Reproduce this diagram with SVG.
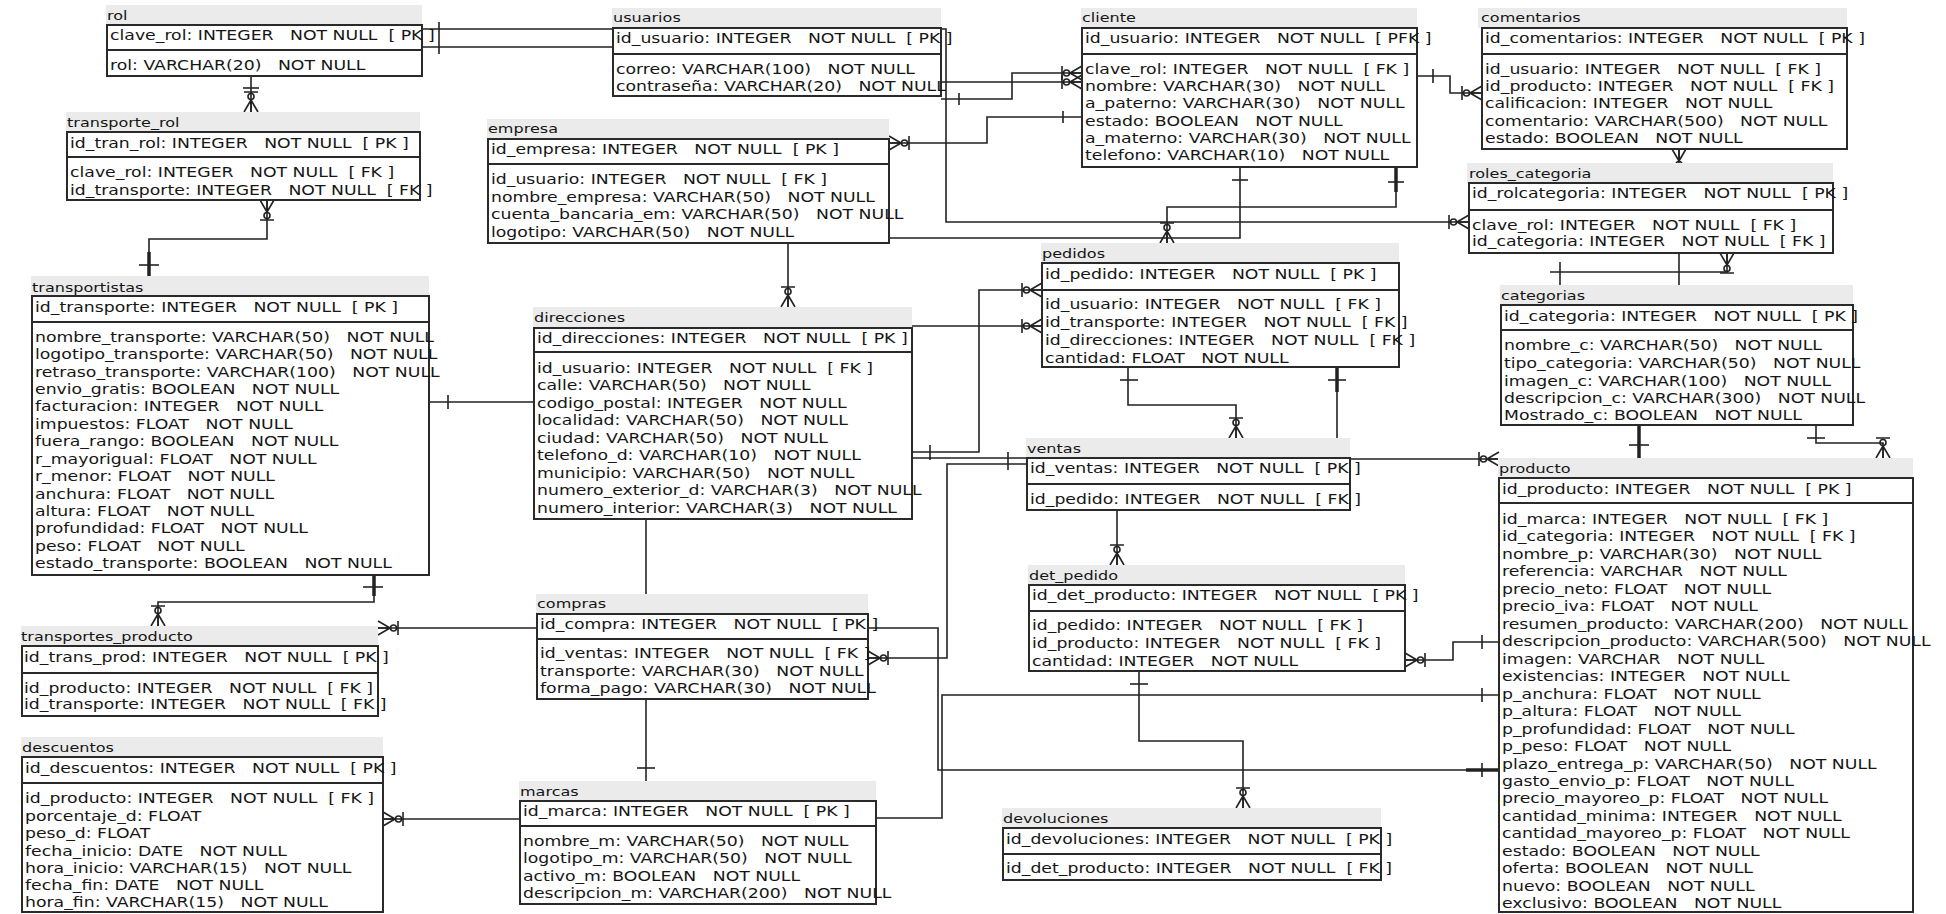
<svg xmlns="http://www.w3.org/2000/svg" xmlns:xlink="http://www.w3.org/1999/xlink" width="1946" height="914" viewBox="0 0 1946 914">
<style>
text { font-family: "DejaVu Sans", Verdana, sans-serif; white-space: pre; fill: #161616; }
.r { font-size: 14px; }
.t { font-size: 13px; }
.band { fill: #ebebeb; }
.box { fill: #fff; stroke: #2a2a2a; stroke-width: 2; }
.dv { stroke: #2a2a2a; stroke-width: 2; }
.cn { fill: none; stroke: #222; stroke-width: 1.6; }
.mk { fill: none; stroke: #222; stroke-width: 1.6; }
.th { fill: none; stroke: #222; stroke-width: 3.5; }
</style>
<defs>
<g id="many" class="mk"><path d="M-12,0L0,-7M-12,0L0,0M-12,0L0,7M-20,-7L-20,7"/><circle cx="-15.5" cy="0" r="3"/></g>
</defs>
<rect x="0" y="0" width="1946" height="914" fill="#fff"/>

<g id="connectors">
<polyline class="cn" points="422,29 946,29 946,222 1469,222"/>
<line class="mk" x1="439" y1="22" x2="439" y2="54"/>
<use xlink:href="#many" href="#many" transform="translate(1469,222)"/>
<polyline class="cn" points="422,47 700,47 700,82 1082,82"/>
<use xlink:href="#many" href="#many" transform="translate(1082,82)"/>
<polyline class="cn" points="941,99 1012,99 1012,73 1082,73"/>
<line class="mk" x1="959" y1="93" x2="959" y2="105"/>
<use xlink:href="#many" href="#many" transform="translate(1082,73)"/>
<polyline class="cn" points="889,143 987,143 987,117 1082,117"/>
<use xlink:href="#many" href="#many" transform="translate(889,143) rotate(180)"/>
<line class="mk" x1="1063" y1="111" x2="1063" y2="123"/>
<polyline class="cn" points="889,238 1240,238 1240,167"/>
<line class="mk" x1="1232" y1="180" x2="1248" y2="180"/>
<polyline class="cn" points="1396,167 1396,207 1167,207 1167,243"/>
<line class="th" x1="1396" y1="168" x2="1396" y2="192"/>
<line class="mk" x1="1388" y1="182" x2="1404" y2="182"/>
<use xlink:href="#many" href="#many" transform="translate(1167,243) rotate(90)"/>
<polyline class="cn" points="1417,76 1450,76 1450,93 1482,93"/>
<line class="mk" x1="1433" y1="69" x2="1433" y2="83"/>
<use xlink:href="#many" href="#many" transform="translate(1482,93)"/>
<polyline class="cn" points="1679,149 1679,300"/>
<use xlink:href="#many" href="#many" transform="translate(1679,149) rotate(-90)"/>
<polyline class="cn" points="1550,272 1727,272 1727,253"/>
<line class="mk" x1="1560" y1="262" x2="1560" y2="285"/>
<use xlink:href="#many" href="#many" transform="translate(1727,253) rotate(-90)"/>
<line class="th" x1="1639" y1="425" x2="1639" y2="458"/>
<line class="mk" x1="1629" y1="445" x2="1649" y2="445"/>
<polyline class="cn" points="1816,425 1816,443 1883,443 1883,458"/>
<line class="mk" x1="1807" y1="438" x2="1825" y2="438"/>
<use xlink:href="#many" href="#many" transform="translate(1883,458) rotate(90)"/>
<polyline class="cn" points="429,402 534,402"/>
<line class="mk" x1="448" y1="395" x2="448" y2="409"/>
<polyline class="cn" points="912,326 1042,326"/>
<use xlink:href="#many" href="#many" transform="translate(1042,326)"/>
<polyline class="cn" points="912,452 979,452 979,290 1042,290"/>
<line class="mk" x1="930" y1="445" x2="930" y2="460"/>
<use xlink:href="#many" href="#many" transform="translate(1042,290)"/>
<polyline class="cn" points="912,458 1100,458"/>
<line class="mk" x1="1008" y1="452" x2="1008" y2="470"/>
<polyline class="cn" points="1027,464 947,464 947,658 868,658"/>
<use xlink:href="#many" href="#many" transform="translate(868,658) rotate(180)"/>
<polyline class="cn" points="1128,367 1128,405 1236,405 1236,438"/>
<line class="mk" x1="1120" y1="380" x2="1138" y2="380"/>
<use xlink:href="#many" href="#many" transform="translate(1236,438) rotate(90)"/>
<polyline class="cn" points="1337,367 1337,459 1499,459"/>
<line class="th" x1="1337" y1="368" x2="1337" y2="392"/>
<line class="mk" x1="1328" y1="380" x2="1346" y2="380"/>
<use xlink:href="#many" href="#many" transform="translate(1499,459)"/>
<polyline class="cn" points="1117,510 1117,565"/>
<use xlink:href="#many" href="#many" transform="translate(1117,565) rotate(90)"/>
<polyline class="cn" points="1139,671 1139,741 1243,741 1243,808"/>
<line class="mk" x1="1130" y1="684" x2="1148" y2="684"/>
<use xlink:href="#many" href="#many" transform="translate(1243,808) rotate(90)"/>
<polyline class="cn" points="1405,660 1453,660 1453,642 1499,642"/>
<use xlink:href="#many" href="#many" transform="translate(1405,660) rotate(180)"/>
<line class="mk" x1="1482" y1="635" x2="1482" y2="649"/>
<polyline class="cn" points="876,818 942,818 942,695 1499,695"/>
<line class="mk" x1="1482" y1="688" x2="1482" y2="702"/>
<polyline class="cn" points="868,628 938,628 938,770 1499,770"/>
<line class="th" x1="1466" y1="770" x2="1499" y2="770"/>
<line class="mk" x1="1482" y1="763" x2="1482" y2="777"/>
<polyline class="cn" points="646,519 646,594"/>
<polyline class="cn" points="646,699 646,781"/>
<line class="mk" x1="637" y1="768" x2="655" y2="768"/>
<polyline class="cn" points="537,628 378,628"/>
<use xlink:href="#many" href="#many" transform="translate(378,628) rotate(180)"/>
<polyline class="cn" points="520,819 383,819"/>
<use xlink:href="#many" href="#many" transform="translate(383,819) rotate(180)"/>
<polyline class="cn" points="267,200 267,239 149,239 149,276"/>
<use xlink:href="#many" href="#many" transform="translate(267,200) rotate(-90)"/>
<line class="th" x1="149" y1="252" x2="149" y2="276"/>
<line class="mk" x1="139" y1="265" x2="159" y2="265"/>
<polyline class="cn" points="251,76 251,112"/>
<line class="mk" x1="243" y1="88" x2="259" y2="88"/>
<use xlink:href="#many" href="#many" transform="translate(251,112) rotate(90)"/>
<polyline class="cn" points="374,575 374,602 158,602 158,626"/>
<line class="th" x1="374" y1="576" x2="374" y2="596"/>
<line class="mk" x1="363" y1="587" x2="383" y2="587"/>
<use xlink:href="#many" href="#many" transform="translate(158,626) rotate(90)"/>
<polyline class="cn" points="788,243 788,307"/>
<use xlink:href="#many" href="#many" transform="translate(788,307) rotate(90)"/>
</g>

<g id="rol">
<rect class="band" x="106" y="5" width="316" height="20"/>
<rect class="box" x="107" y="25" width="315" height="51"/>
<line class="dv" x1="107" y1="50" x2="422" y2="50"/>
<g transform="translate(107,0) scale(1.235,1)"><text class="t" y="20">rol</text></g>
<g transform="translate(110,0) scale(1.235,1)">
<text class="r" y="40">clave_rol: INTEGER   NOT NULL  [ PK ]</text>
<text class="r" y="70">rol: VARCHAR(20)   NOT NULL</text>
</g>
</g>

<g id="transporte_rol">
<rect class="band" x="66" y="112" width="354" height="20"/>
<rect class="box" x="67" y="132" width="353" height="68"/>
<line class="dv" x1="67" y1="157" x2="420" y2="157"/>
<g transform="translate(67,0) scale(1.235,1)"><text class="t" y="127">transporte_rol</text></g>
<g transform="translate(70,0) scale(1.235,1)">
<text class="r" y="148">id_tran_rol: INTEGER   NOT NULL  [ PK ]</text>
<text class="r" y="177">clave_rol: INTEGER   NOT NULL  [ FK ]</text>
<text class="r" y="195">id_transporte: INTEGER   NOT NULL  [ FK ]</text>
</g>
</g>

<g id="transportistas">
<rect class="band" x="31" y="276" width="398" height="20"/>
<rect class="box" x="32" y="296" width="397" height="279"/>
<line class="dv" x1="32" y1="322" x2="429" y2="322"/>
<g transform="translate(32,0) scale(1.235,1)"><text class="t" y="292">transportistas</text></g>
<g transform="translate(35,0) scale(1.235,1)">
<text class="r" y="312">id_transporte: INTEGER   NOT NULL  [ PK ]</text>
<text class="r" y="341.7">nombre_transporte: VARCHAR(50)   NOT NULL</text>
<text class="r" y="359.1">logotipo_transporte: VARCHAR(50)   NOT NULL</text>
<text class="r" y="376.6">retraso_transporte: VARCHAR(100)   NOT NULL</text>
<text class="r" y="394">envio_gratis: BOOLEAN   NOT NULL</text>
<text class="r" y="411.4">facturacion: INTEGER   NOT NULL</text>
<text class="r" y="428.9">impuestos: FLOAT   NOT NULL</text>
<text class="r" y="446.3">fuera_rango: BOOLEAN   NOT NULL</text>
<text class="r" y="463.7">r_mayorigual: FLOAT   NOT NULL</text>
<text class="r" y="481.1">r_menor: FLOAT   NOT NULL</text>
<text class="r" y="498.6">anchura: FLOAT   NOT NULL</text>
<text class="r" y="516">altura: FLOAT   NOT NULL</text>
<text class="r" y="533.4">profundidad: FLOAT   NOT NULL</text>
<text class="r" y="550.9">peso: FLOAT   NOT NULL</text>
<text class="r" y="568.3">estado_transporte: BOOLEAN   NOT NULL</text>
</g>
</g>

<g id="usuarios">
<rect class="band" x="612" y="8" width="329" height="20"/>
<rect class="box" x="613" y="28" width="328" height="68"/>
<line class="dv" x1="613" y1="54" x2="941" y2="54"/>
<g transform="translate(613,0) scale(1.235,1)"><text class="t" y="22">usuarios</text></g>
<g transform="translate(616,0) scale(1.235,1)">
<text class="r" y="43">id_usuario: INTEGER   NOT NULL  [ PK ]</text>
<text class="r" y="74">correo: VARCHAR(100)   NOT NULL</text>
<text class="r" y="91">contraseña: VARCHAR(20)   NOT NULL</text>
</g>
</g>

<g id="empresa">
<rect class="band" x="487" y="119" width="402" height="20"/>
<rect class="box" x="488" y="139" width="401" height="104"/>
<line class="dv" x1="488" y1="164" x2="889" y2="164"/>
<g transform="translate(488,0) scale(1.235,1)"><text class="t" y="133">empresa</text></g>
<g transform="translate(491,0) scale(1.235,1)">
<text class="r" y="154">id_empresa: INTEGER   NOT NULL  [ PK ]</text>
<text class="r" y="184">id_usuario: INTEGER   NOT NULL  [ FK ]</text>
<text class="r" y="202">nombre_empresa: VARCHAR(50)   NOT NULL</text>
<text class="r" y="219">cuenta_bancaria_em: VARCHAR(50)   NOT NULL</text>
<text class="r" y="237">logotipo: VARCHAR(50)   NOT NULL</text>
</g>
</g>

<g id="cliente">
<rect class="band" x="1081" y="8" width="336" height="20"/>
<rect class="box" x="1082" y="28" width="335" height="139"/>
<line class="dv" x1="1082" y1="54" x2="1417" y2="54"/>
<g transform="translate(1082,0) scale(1.235,1)"><text class="t" y="22">cliente</text></g>
<g transform="translate(1085,0) scale(1.235,1)">
<text class="r" y="43">id_usuario: INTEGER   NOT NULL  [ PFK ]</text>
<text class="r" y="74">clave_rol: INTEGER   NOT NULL  [ FK ]</text>
<text class="r" y="91">nombre: VARCHAR(30)   NOT NULL</text>
<text class="r" y="108">a_paterno: VARCHAR(30)   NOT NULL</text>
<text class="r" y="126">estado: BOOLEAN   NOT NULL</text>
<text class="r" y="143">a_materno: VARCHAR(30)   NOT NULL</text>
<text class="r" y="160">telefono: VARCHAR(10)   NOT NULL</text>
</g>
</g>

<g id="comentarios">
<rect class="band" x="1478" y="8" width="369" height="20"/>
<rect class="box" x="1482" y="28" width="365" height="121"/>
<line class="dv" x1="1482" y1="54" x2="1847" y2="54"/>
<g transform="translate(1481,0) scale(1.235,1)"><text class="t" y="22">comentarios</text></g>
<g transform="translate(1485,0) scale(1.235,1)">
<text class="r" y="43">id_comentarios: INTEGER   NOT NULL  [ PK ]</text>
<text class="r" y="74">id_usuario: INTEGER   NOT NULL  [ FK ]</text>
<text class="r" y="91">id_producto: INTEGER   NOT NULL  [ FK ]</text>
<text class="r" y="108">calificacion: INTEGER   NOT NULL</text>
<text class="r" y="126">comentario: VARCHAR(500)   NOT NULL</text>
<text class="r" y="143">estado: BOOLEAN   NOT NULL</text>
</g>
</g>

<g id="roles_categoria">
<rect class="band" x="1467" y="163" width="366" height="20"/>
<rect class="box" x="1469" y="183" width="364" height="70"/>
<line class="dv" x1="1469" y1="210" x2="1833" y2="210"/>
<g transform="translate(1469,0) scale(1.235,1)"><text class="t" y="178">roles_categoria</text></g>
<g transform="translate(1472,0) scale(1.235,1)">
<text class="r" y="198">id_rolcategoria: INTEGER   NOT NULL  [ PK ]</text>
<text class="r" y="230">clave_rol: INTEGER   NOT NULL  [ FK ]</text>
<text class="r" y="246">id_categoria: INTEGER   NOT NULL  [ FK ]</text>
</g>
</g>

<g id="categorias">
<rect class="band" x="1500" y="285" width="353" height="20"/>
<rect class="box" x="1501" y="305" width="352" height="120"/>
<line class="dv" x1="1501" y1="330" x2="1853" y2="330"/>
<g transform="translate(1501,0) scale(1.235,1)"><text class="t" y="300">categorias</text></g>
<g transform="translate(1504,0) scale(1.235,1)">
<text class="r" y="321">id_categoria: INTEGER   NOT NULL  [ PK ]</text>
<text class="r" y="350">nombre_c: VARCHAR(50)   NOT NULL</text>
<text class="r" y="368">tipo_categoria: VARCHAR(50)   NOT NULL</text>
<text class="r" y="386">imagen_c: VARCHAR(100)   NOT NULL</text>
<text class="r" y="403">descripcion_c: VARCHAR(300)   NOT NULL</text>
<text class="r" y="420">Mostrado_c: BOOLEAN   NOT NULL</text>
</g>
</g>

<g id="producto">
<rect class="band" x="1498" y="458" width="415" height="20"/>
<rect class="box" x="1499" y="478" width="414" height="434"/>
<line class="dv" x1="1499" y1="503" x2="1913" y2="503"/>
<g transform="translate(1499,0) scale(1.235,1)"><text class="t" y="473">producto</text></g>
<g transform="translate(1502,0) scale(1.235,1)">
<text class="r" y="494">id_producto: INTEGER   NOT NULL  [ PK ]</text>
<text class="r" y="524">id_marca: INTEGER   NOT NULL  [ FK ]</text>
<text class="r" y="541.5">id_categoria: INTEGER   NOT NULL  [ FK ]</text>
<text class="r" y="558.9">nombre_p: VARCHAR(30)   NOT NULL</text>
<text class="r" y="576.4">referencia: VARCHAR   NOT NULL</text>
<text class="r" y="593.9">precio_neto: FLOAT   NOT NULL</text>
<text class="r" y="611.4">precio_iva: FLOAT   NOT NULL</text>
<text class="r" y="628.8">resumen_producto: VARCHAR(200)   NOT NULL</text>
<text class="r" y="646.3">descripcion_producto: VARCHAR(500)   NOT NULL</text>
<text class="r" y="663.8">imagen: VARCHAR   NOT NULL</text>
<text class="r" y="681.2">existencias: INTEGER   NOT NULL</text>
<text class="r" y="698.7">p_anchura: FLOAT   NOT NULL</text>
<text class="r" y="716.2">p_altura: FLOAT   NOT NULL</text>
<text class="r" y="733.6">p_profundidad: FLOAT   NOT NULL</text>
<text class="r" y="751.1">p_peso: FLOAT   NOT NULL</text>
<text class="r" y="768.6">plazo_entrega_p: VARCHAR(50)   NOT NULL</text>
<text class="r" y="786.1">gasto_envio_p: FLOAT   NOT NULL</text>
<text class="r" y="803.5">precio_mayoreo_p: FLOAT   NOT NULL</text>
<text class="r" y="821">cantidad_minima: INTEGER   NOT NULL</text>
<text class="r" y="838.5">cantidad_mayoreo_p: FLOAT   NOT NULL</text>
<text class="r" y="855.9">estado: BOOLEAN   NOT NULL</text>
<text class="r" y="873.4">oferta: BOOLEAN   NOT NULL</text>
<text class="r" y="890.9">nuevo: BOOLEAN   NOT NULL</text>
<text class="r" y="908.3">exclusivo: BOOLEAN   NOT NULL</text>
</g>
</g>

<g id="direcciones">
<rect class="band" x="533" y="307" width="379" height="21"/>
<rect class="box" x="534" y="328" width="378" height="191"/>
<line class="dv" x1="534" y1="352" x2="912" y2="352"/>
<g transform="translate(534,0) scale(1.235,1)"><text class="t" y="322">direcciones</text></g>
<g transform="translate(537,0) scale(1.235,1)">
<text class="r" y="343">id_direcciones: INTEGER   NOT NULL  [ PK ]</text>
<text class="r" y="373">id_usuario: INTEGER   NOT NULL  [ FK ]</text>
<text class="r" y="390.5">calle: VARCHAR(50)   NOT NULL</text>
<text class="r" y="408">codigo_postal: INTEGER   NOT NULL</text>
<text class="r" y="425.5">localidad: VARCHAR(50)   NOT NULL</text>
<text class="r" y="443">ciudad: VARCHAR(50)   NOT NULL</text>
<text class="r" y="460.5">telefono_d: VARCHAR(10)   NOT NULL</text>
<text class="r" y="478">municipio: VARCHAR(50)   NOT NULL</text>
<text class="r" y="495.5">numero_exterior_d: VARCHAR(3)   NOT NULL</text>
<text class="r" y="513">numero_interior: VARCHAR(3)   NOT NULL</text>
</g>
</g>

<g id="pedidos">
<rect class="band" x="1041" y="243" width="358" height="20"/>
<rect class="box" x="1042" y="263" width="357" height="104"/>
<line class="dv" x1="1042" y1="290" x2="1399" y2="290"/>
<g transform="translate(1042,0) scale(1.235,1)"><text class="t" y="258">pedidos</text></g>
<g transform="translate(1045,0) scale(1.235,1)">
<text class="r" y="279">id_pedido: INTEGER   NOT NULL  [ PK ]</text>
<text class="r" y="309">id_usuario: INTEGER   NOT NULL  [ FK ]</text>
<text class="r" y="327">id_transporte: INTEGER   NOT NULL  [ FK ]</text>
<text class="r" y="345">id_direcciones: INTEGER   NOT NULL  [ FK ]</text>
<text class="r" y="363">cantidad: FLOAT   NOT NULL</text>
</g>
</g>

<g id="ventas">
<rect class="band" x="1026" y="438" width="324" height="20"/>
<rect class="box" x="1027" y="458" width="323" height="52"/>
<line class="dv" x1="1027" y1="484" x2="1350" y2="484"/>
<g transform="translate(1027,0) scale(1.235,1)"><text class="t" y="453">ventas</text></g>
<g transform="translate(1030,0) scale(1.235,1)">
<text class="r" y="473">id_ventas: INTEGER   NOT NULL  [ PK ]</text>
<text class="r" y="504">id_pedido: INTEGER   NOT NULL  [ FK ]</text>
</g>
</g>

<g id="det_pedido">
<rect class="band" x="1028" y="565" width="377" height="20"/>
<rect class="box" x="1029" y="585" width="376" height="86"/>
<line class="dv" x1="1029" y1="611" x2="1405" y2="611"/>
<g transform="translate(1029,0) scale(1.235,1)"><text class="t" y="580">det_pedido</text></g>
<g transform="translate(1032,0) scale(1.235,1)">
<text class="r" y="600">id_det_producto: INTEGER   NOT NULL  [ PK ]</text>
<text class="r" y="630">id_pedido: INTEGER   NOT NULL  [ FK ]</text>
<text class="r" y="648">id_producto: INTEGER   NOT NULL  [ FK ]</text>
<text class="r" y="666">cantidad: INTEGER   NOT NULL</text>
</g>
</g>

<g id="devoluciones">
<rect class="band" x="1002" y="808" width="379" height="20"/>
<rect class="box" x="1003" y="828" width="378" height="52"/>
<line class="dv" x1="1003" y1="854" x2="1381" y2="854"/>
<g transform="translate(1003,0) scale(1.235,1)"><text class="t" y="823">devoluciones</text></g>
<g transform="translate(1006,0) scale(1.235,1)">
<text class="r" y="844">id_devoluciones: INTEGER   NOT NULL  [ PK ]</text>
<text class="r" y="873">id_det_producto: INTEGER   NOT NULL  [ FK ]</text>
</g>
</g>

<g id="compras">
<rect class="band" x="536" y="594" width="332" height="20"/>
<rect class="box" x="537" y="614" width="331" height="85"/>
<line class="dv" x1="537" y1="639" x2="868" y2="639"/>
<g transform="translate(537,0) scale(1.235,1)"><text class="t" y="608">compras</text></g>
<g transform="translate(540,0) scale(1.235,1)">
<text class="r" y="629">id_compra: INTEGER   NOT NULL  [ PK ]</text>
<text class="r" y="658">id_ventas: INTEGER   NOT NULL  [ FK ]</text>
<text class="r" y="676">transporte: VARCHAR(30)   NOT NULL</text>
<text class="r" y="693">forma_pago: VARCHAR(30)   NOT NULL</text>
</g>
</g>

<g id="marcas">
<rect class="band" x="519" y="781" width="357" height="20"/>
<rect class="box" x="520" y="801" width="356" height="103"/>
<line class="dv" x1="520" y1="826" x2="876" y2="826"/>
<g transform="translate(520,0) scale(1.235,1)"><text class="t" y="796">marcas</text></g>
<g transform="translate(523,0) scale(1.235,1)">
<text class="r" y="816">id_marca: INTEGER   NOT NULL  [ PK ]</text>
<text class="r" y="846">nombre_m: VARCHAR(50)   NOT NULL</text>
<text class="r" y="863">logotipo_m: VARCHAR(50)   NOT NULL</text>
<text class="r" y="881">activo_m: BOOLEAN   NOT NULL</text>
<text class="r" y="898">descripcion_m: VARCHAR(200)   NOT NULL</text>
</g>
</g>

<g id="transportes_producto">
<rect class="band" x="21" y="626" width="357" height="20"/>
<rect class="box" x="22" y="646" width="356" height="70"/>
<line class="dv" x1="22" y1="673" x2="378" y2="673"/>
<g transform="translate(21,0) scale(1.235,1)"><text class="t" y="641">transportes_producto</text></g>
<g transform="translate(24,0) scale(1.235,1)">
<text class="r" y="662">id_trans_prod: INTEGER   NOT NULL  [ PK ]</text>
<text class="r" y="693">id_producto: INTEGER   NOT NULL  [ FK ]</text>
<text class="r" y="709">id_transporte: INTEGER   NOT NULL  [ FK ]</text>
</g>
</g>

<g id="descuentos">
<rect class="band" x="21" y="737" width="362" height="20"/>
<rect class="box" x="22" y="757" width="361" height="155"/>
<line class="dv" x1="22" y1="783" x2="383" y2="783"/>
<g transform="translate(22,0) scale(1.235,1)"><text class="t" y="752">descuentos</text></g>
<g transform="translate(25,0) scale(1.235,1)">
<text class="r" y="773">id_descuentos: INTEGER   NOT NULL  [ PK ]</text>
<text class="r" y="803">id_producto: INTEGER   NOT NULL  [ FK ]</text>
<text class="r" y="821">porcentaje_d: FLOAT</text>
<text class="r" y="838">peso_d: FLOAT</text>
<text class="r" y="856">fecha_inicio: DATE   NOT NULL</text>
<text class="r" y="873">hora_inicio: VARCHAR(15)   NOT NULL</text>
<text class="r" y="890">fecha_fin: DATE   NOT NULL</text>
<text class="r" y="907">hora_fin: VARCHAR(15)   NOT NULL</text>
</g>
</g>
</svg>
